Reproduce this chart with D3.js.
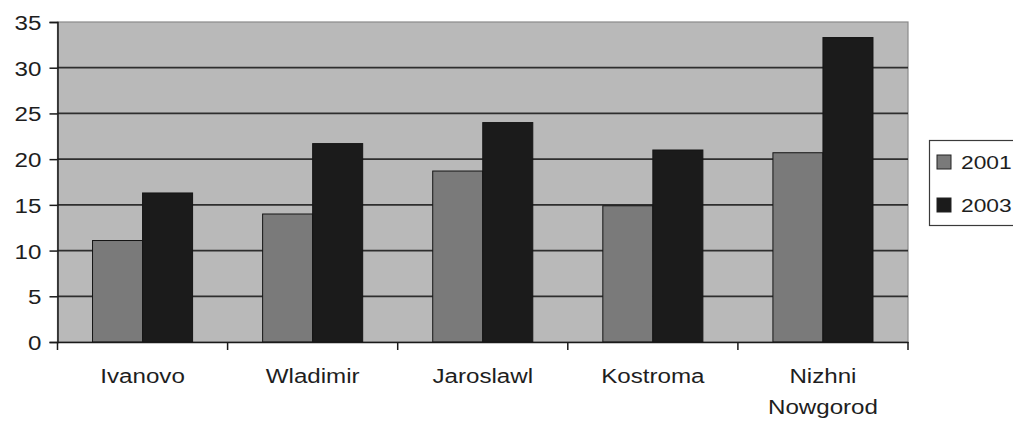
<!DOCTYPE html>
<html>
<head>
<meta charset="utf-8">
<script src="https://cdn.jsdelivr.net/npm/d3@7"></script>
<style>
html,body{margin:0;padding:0;background:#fff;}
svg{display:block;}
text{font-family:"Liberation Sans",Arial,sans-serif;fill:#1e1e1e;}
</style>
</head>
<body>
<svg id="chart" width="1013" height="423"></svg>
<script>
const categories = ["Ivanovo", "Wladimir", "Jaroslawl", "Kostroma", "Nizhni Nowgorod"];
const seriesNames = ["2001", "2003"];
const values2001 = [11.1, 14.0, 18.7, 14.9, 20.7];
const values2003 = [16.3, 21.7, 24.0, 21.0, 33.3];
const yTicks = [0, 5, 10, 15, 20, 25, 30, 35];
const seriesColors = ["#7a7a7a", "#1b1b1b"];

const seriesValues = [values2001, values2003];
const svg = d3.select("#chart");

const plot = {left: 57.5, right: 908, top: 22, bottom: 342};
const x = d3.scaleBand().domain(categories).range([plot.left, plot.right]).padding(0);
const xs = d3.scaleBand().domain(seriesNames).range([0, x.bandwidth()]).paddingInner(0).paddingOuter(0.7);
const y = d3.scaleLinear().domain([0, 35]).range([plot.bottom, plot.top]);

// plot background
svg.append("rect")
  .attr("x", plot.left).attr("y", plot.top)
  .attr("width", plot.right - plot.left).attr("height", plot.bottom - plot.top)
  .attr("fill", "#b9b9b9").attr("stroke", "#8a8a8a").attr("stroke-width", 1.2);

// gridlines
svg.append("g").selectAll("line")
  .data(yTicks.filter(d => d > 0 && d < 35))
  .join("line")
  .attr("x1", plot.left).attr("x2", plot.right)
  .attr("y1", d => y(d)).attr("y2", d => y(d))
  .attr("stroke", "#2e2e2e").attr("stroke-width", 1.8);

// bars
const groups = svg.append("g").selectAll("g")
  .data(categories)
  .join("g")
  .attr("transform", d => `translate(${x(d)},0)`);

groups.selectAll("rect")
  .data((c, i) => seriesNames.map((s, j) => ({s, v: seriesValues[j][i], j})))
  .join("rect")
  .attr("x", d => xs(d.s))
  .attr("y", d => y(d.v))
  .attr("width", xs.bandwidth())
  .attr("height", d => y(0) - y(d.v))
  .attr("fill", d => seriesColors[d.j])
  .attr("stroke", "#151515").attr("stroke-width", 1);

// y axis
const yAxis = svg.append("g")
  .attr("transform", `translate(${plot.left},0)`)
  .call(d3.axisLeft(y).tickValues(yTicks).tickSize(8).tickPadding(0).tickFormat(d3.format("d")));
yAxis.select(".domain").attr("stroke", "#1a1a1a").attr("stroke-width", 1.5);
yAxis.selectAll(".tick line").attr("stroke", "#1a1a1a").attr("stroke-width", 1.5);
yAxis.selectAll(".tick text")
  .attr("x", -14).attr("dy", "0.36em")
  .attr("transform", "scale(1.15,1)")
  .style("font-size", "21px").style("font-family", "'Liberation Sans', Arial, sans-serif")
  .attr("fill", "#1e1e1e");

// x axis (ticks at category boundaries)
const xAxis = svg.append("g")
  .attr("transform", `translate(0,${plot.bottom})`)
  .call(d3.axisBottom(x).tickSize(0).tickPadding(0));
xAxis.select(".domain").attr("stroke", "#1a1a1a").attr("stroke-width", 1.5);
xAxis.selectAll(".tick line").remove();
xAxis.selectAll(".tick text").each(function(d) {
  const t = d3.select(this);
  t.text(null).attr("y", 0).attr("dy", null)
    .attr("transform", "scale(1.15,1)")
    .style("font-size", "21px").style("font-family", "'Liberation Sans', Arial, sans-serif")
    .attr("fill", "#1e1e1e");
  d.split(" ").forEach((line, k) => {
    t.append("tspan").attr("x", 0).attr("y", 41 + k * 31).text(line);
  });
});
const boundaries = categories.map(c => x(c)).concat([x(categories[categories.length - 1]) + x.bandwidth()]);
xAxis.selectAll(".bound")
  .data(boundaries)
  .join("line")
  .attr("class", "bound")
  .attr("x1", d => d).attr("x2", d => d)
  .attr("y1", 0).attr("y2", 8)
  .attr("stroke", "#1a1a1a").attr("stroke-width", 1.5);

// legend
const legend = svg.append("g");
legend.append("rect")
  .attr("x", 929.5).attr("y", 140.5).attr("width", 100).attr("height", 85)
  .attr("fill", "#fff").attr("stroke", "#3a3a3a").attr("stroke-width", 1.2);
const items = legend.selectAll("g.item")
  .data(seriesNames)
  .join("g")
  .attr("class", "item")
  .attr("transform", (d, i) => `translate(937,${162 + i * 43})`);
items.append("rect")
  .attr("x", 0).attr("y", -7).attr("width", 14).attr("height", 14)
  .attr("fill", (d, i) => seriesColors[i]).attr("stroke", "#222").attr("stroke-width", 1);
items.append("text")
  .attr("transform", "translate(24,0) scale(1.2,1)")
  .attr("dy", "0.36em")
  .style("font-size", "19px")
  .text(d => d);
</script>
</body>
</html>
